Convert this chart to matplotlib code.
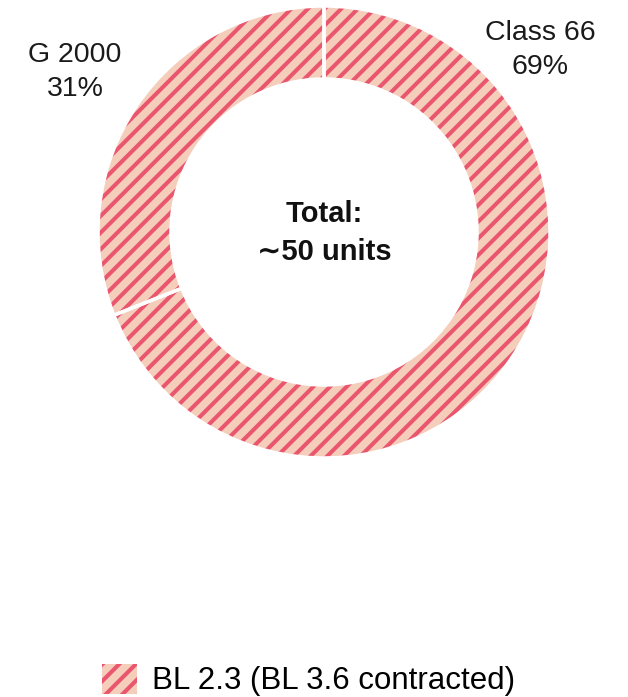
"""Donut chart: fleet split by class, single hatched series."""

import matplotlib.pyplot as plt
from matplotlib.patches import Patch

plt.rcParams["font.family"] = ["Liberation Sans", "DejaVu Sans"]
plt.rcParams["hatch.linewidth"] = 2.9

CLASSES = ["Class 66", "G 2000"]
SHARES = [69, 31]
TOTAL_LABEL = "Total:\n\u223c50 units"
LEGEND_LABEL = "BL 2.3 (BL 3.6 contracted)"

FACE = "#f4cdbb"
STRIPE = "#e9566d"
W, H = 628, 697

fig = plt.figure(figsize=(W / 100, H / 100), dpi=100)
ax = fig.add_axes([0, 0, 1, 1])

cx, cy, r, ring = 324, 465, 226, 73
pie_kw = dict(center=(cx, cy), radius=r, startangle=90, counterclock=False, frame=True)

# hatched fill: hatch takes the edge colour, so keep the edge width at 0
ax.pie(SHARES, colors=[FACE] * len(SHARES),
       wedgeprops=dict(width=ring, edgecolor=STRIPE, linewidth=0, hatch="//"), **pie_kw)
# white separators on top
ax.pie(SHARES, colors=["none"] * len(SHARES),
       wedgeprops=dict(width=ring, edgecolor="white", linewidth=2.5, fill=False), **pie_kw)

ax.set_xlim(0, W)
ax.set_ylim(0, H)
ax.set_aspect("equal")
ax.axis("off")

ax.text(540, H - 50, f"{CLASSES[0]}\n{SHARES[0]}%", ha="center", va="center",
        fontsize=20.5, linespacing=1.45, color="#1a1a1a")
ax.text(75, H - 72, f"{CLASSES[1]}\n{SHARES[1]}%", ha="center", va="center",
        fontsize=20.5, linespacing=1.45, color="#1a1a1a")
ax.text(cx, H - 233, TOTAL_LABEL, ha="center", va="center", fontsize=21,
        fontweight="bold", linespacing=1.45, color="#111111")

handle = Patch(facecolor=FACE, edgecolor=STRIPE, linewidth=0, hatch="//")
fig.legend([handle], [LEGEND_LABEL], loc="center", bbox_to_anchor=(309 / W, 1 - 680 / H),
           frameon=False, fontsize=22.5, handlelength=1.1, handleheight=1.1,
           handletextpad=0.5, borderpad=0, borderaxespad=0)

fig.savefig("out.png", dpi=100)
